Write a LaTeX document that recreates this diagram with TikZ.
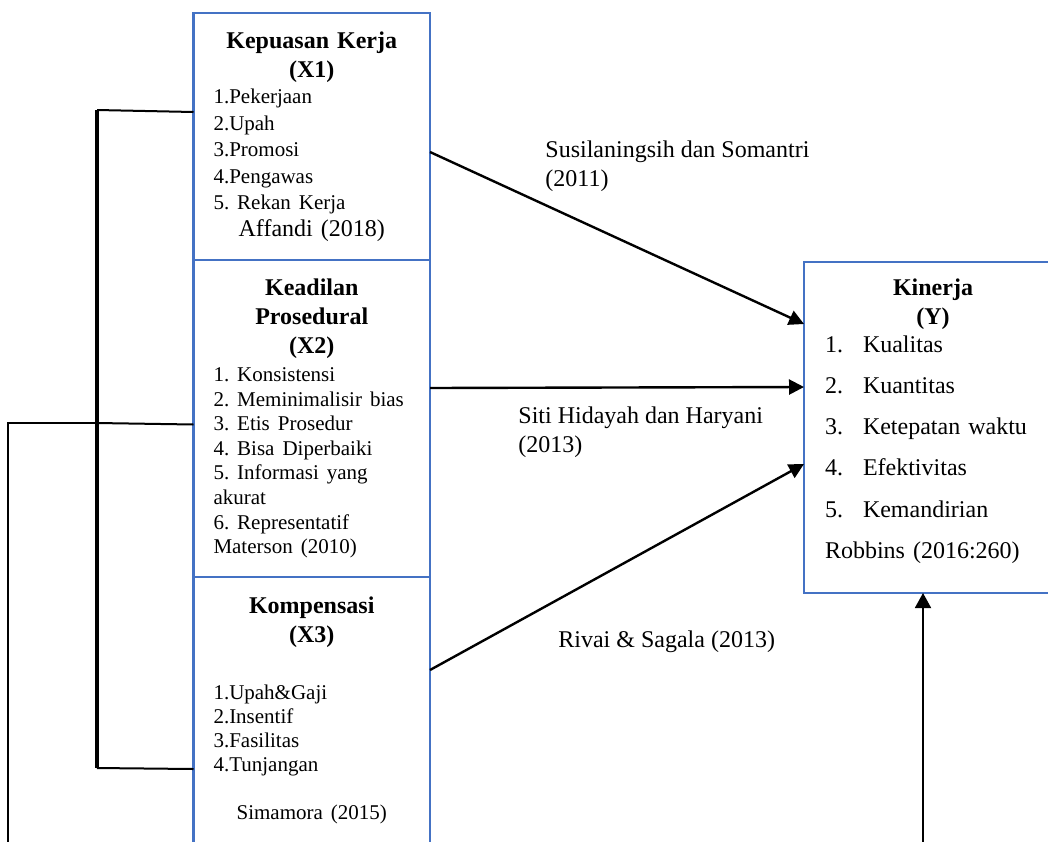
\documentclass[tikz,border=0pt]{standalone}
\usepackage{fontspec}
\setmainfont{Liberation Serif}
\usepackage{xcolor}
\usetikzlibrary{arrows.meta,positioning,calc}
\definecolor{wordblue}{RGB}{68,114,196}
\setlength{\parindent}{0pt}
\frenchspacing

\begin{document}
\begin{tikzpicture}[
    x=0.5pt, y=-0.5pt,
    node distance=0pt,
    font=\fontsize{12}{14.5}\selectfont,
    varbox/.style={rectangle, draw=wordblue, line width=1.25pt, text width=98.25pt, inner xsep=10pt, inner ysep=0pt, outer sep=0pt, execute at begin node={\raggedright}},
    ybox/.style={rectangle, draw=wordblue, line width=1.25pt, text width=108pt, inner xsep=10.5pt, inner ysep=0pt, outer sep=0pt, minimum height=165.5pt, execute at begin node={\raggedright}},
    ref/.style={inner sep=0pt, align=left},
    arrow/.style={-{Triangle[length=7.5pt,width=7.5pt]}, line width=1.2pt},
    uparrow/.style={-{Triangle[length=7.5pt,width=8pt]}, line width=0.9pt},
    bracket/.style={line width=1.6pt},
    tick/.style={line width=1pt},
    thinline/.style={line width=0.6pt}
]
\useasboundingbox (0,0) rectangle (1048,841);
\clip (0,0) rectangle (1048,841);

% === INDEPENDENT VARIABLES ===
\node[varbox, anchor=north west, minimum height=123.5pt] (x1) at (193.5,13) {%
{\centering\bfseries Kepuasan Kerja\\(X1)\par}
{\fontsize{10.5}{13.25}\selectfont 1.Pekerjaan\\2.Upah\\3.Promosi\\4.Pengawas\\5. Rekan Kerja\par}
{\centering\fontsize{12}{13.5}\selectfont Affandi (2018)\par}};
\node[varbox, below=of x1, minimum height=158.5pt] (x2) {%
{\centering\bfseries Keadilan\\Prosedural\\(X2)\par}
\vspace{1.7pt}
{\fontsize{10.5}{12.3}\selectfont 1. Konsistensi\\2. Meminimalisir bias\\3. Etis Prosedur\\4. Bisa Diperbaiki\\5. Informasi yang\\akurat\\6. Representatif\\Materson (2010)\par}};
\node[varbox, below=of x2, minimum height=133pt] (x3) {%
{\centering\bfseries Kompensasi\\(X3)\par}
\vspace{16.5pt}
{\fontsize{10.5}{12}\selectfont 1.Upah\&Gaji\\2.Insentif\\3.Fasilitas\\4.Tunjangan\par}
\vspace{12pt}
{\centering\fontsize{10.5}{12}\selectfont Simamora (2015)\par}};

% === DEPENDENT VARIABLE ===
\node[ybox, anchor=north west] (kinerja) at (804,262) {%
{\centering\bfseries Kinerja\\(Y)\par}
\vspace{-6.6pt}
{\fontsize{12}{20.6}\selectfont
\makebox[19pt][l]{1.}Kualitas\\
\makebox[19pt][l]{2.}Kuantitas\\
\makebox[19pt][l]{3.}Ketepatan waktu\\
\makebox[19pt][l]{4.}Efektivitas\\
\makebox[19pt][l]{5.}Kemandirian\\
Robbins (2016:260)\rule[-9pt]{0pt}{9pt}\par}};

% === REFERENCES ===
\node[ref, anchor=north west] (refx1) at (545,140) {Susilaningsih dan Somantri\\(2011)};
\node[ref, anchor=north west] (refx2) at (518,406) {Siti Hidayah dan Haryani\\(2013)};
\node[ref, anchor=west] (refx3) at (558,642) {Rivai \& Sagala (2013)};

% === CONNECTIONS ===
\draw[arrow] ([yshift=-7.75pt]x1.east) -- ([yshift=51.75pt]kinerja.west);
\draw[arrow] ([yshift=15.25pt]x2.east) -- ([yshift=20.25pt]kinerja.west);
\draw[arrow] ([yshift=20pt]x3.east) -- ([yshift=-18.25pt]kinerja.west);

% bracket on the left
\coordinate (brktop) at (97,110);
\coordinate (brkmid) at (97,423);
\coordinate (brkbot) at (97,768);
\coordinate (lowleft) at (8,845);
\coordinate (lowright) at (923,845);
\draw[bracket] (brktop) -- (brkbot);
\draw[tick] (brktop) -- ([yshift=12.25pt]x1.west);
\draw[tick] (brkmid) -- ([yshift=-3pt]x2.west);
\draw[tick] (brkbot) -- ([yshift=-29.5pt]x3.west);
\draw[thinline] (brkmid) -| (lowleft);

% simultaneous path into Y
\draw[uparrow] (lowright) -- (lowright |- kinerja.south);

\end{tikzpicture}
\end{document}
